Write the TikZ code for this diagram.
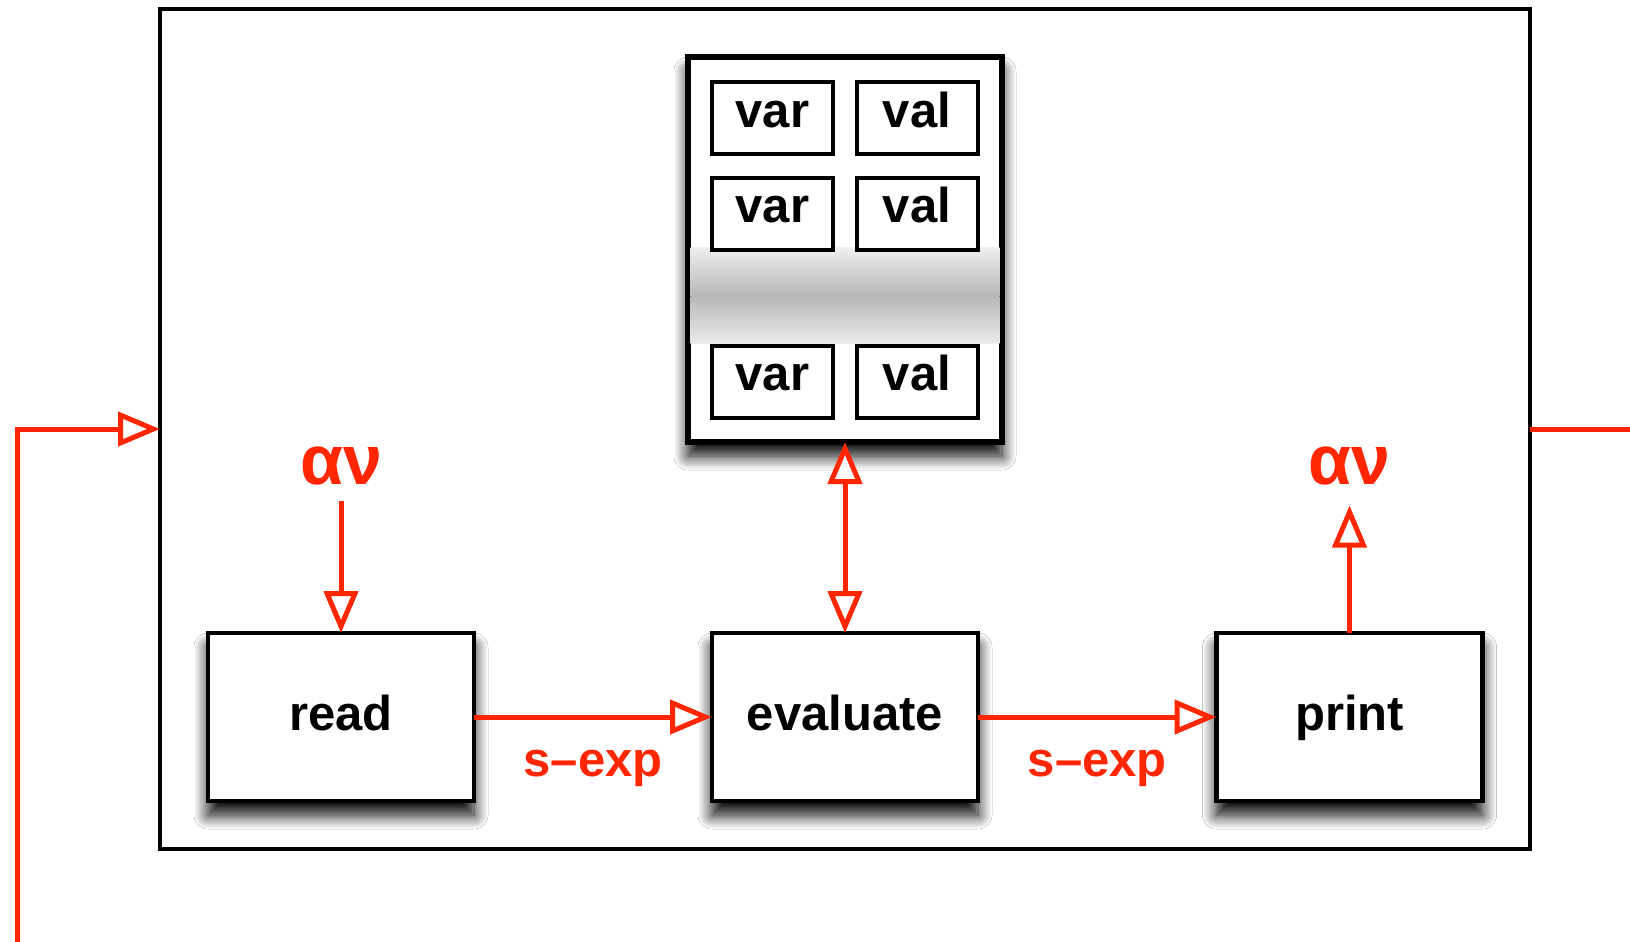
\documentclass[tikz,border=0pt]{standalone}
\usepackage{fontspec}
\setmainfont{Liberation Sans}
\usetikzlibrary{arrows.meta,shadows.blur}
\definecolor{kred}{RGB}{255,38,0}
\begin{document}
\begin{tikzpicture}[x=0.5pt,y=-0.5pt,
  box/.style={draw=black, line width=2.2pt, fill=white, rectangle, inner sep=0pt, outer sep=0pt,
    font=\fontsize{24.5pt}{29pt}\selectfont\bfseries, text height=18pt, text depth=5pt},
  shadowed/.style={blur shadow={shadow xshift=0pt, shadow yshift=-7pt, shadow blur radius=7pt, shadow blur steps=12, shadow opacity=100}},
  outerbox/.style={draw=black, line width=2pt, fill=white, rectangle, outer sep=0pt, minimum width=685pt, minimum height=420pt},
  envbox/.style={box, line width=2.6pt, minimum width=157pt, minimum height=192.5pt, shadowed},
  cellbox/.style={box, line width=2pt, minimum width=60.5pt, minimum height=36pt, text height=14pt, text depth=5pt},
  stagebox/.style={box, line width=2.4pt, minimum width=133pt, minimum height=84pt, shadowed},
  greek/.style={text=kred, inner sep=0pt, font=\fontsize{35pt}{40pt}\selectfont\bfseries},
  lbl/.style={text=kred, inner sep=0pt, font=\fontsize{24.5pt}{29pt}\selectfont\bfseries, midway, below=15.5pt},
  redline/.style={draw=kred, line width=2.5pt},
  flow/.style={redline, -{Triangle[length=21pt, width=17pt, fill=white, line width=2.5pt]}},
  flowboth/.style={redline, {Triangle[length=21pt, width=17pt, fill=white, line width=2.5pt]}-{Triangle[length=21pt, width=17pt, fill=white, line width=2.5pt]}}
]
\useasboundingbox (0,0) rectangle (1630,942);

% outer REPL box
\node[outerbox] (repl) at (845,429) {};

% environment
\node[envbox] (env) at (845,249.5) {};
\shade[top color=black!6, bottom color=black!28] ([xshift=1.3pt]env.west |- 0,247) rectangle ([xshift=-1.3pt]env.east |- 0,296);
\shade[top color=black!28, bottom color=black!8] ([xshift=1.3pt]env.west |- 0,296) rectangle ([xshift=-1.3pt]env.east |- 0,343);

\node[cellbox] (var1) at (772.5,118) {var};
\node[cellbox] (val1) at (917,118) {val};
\node[cellbox] (var2) at (772.5,213.5) {var};
\node[cellbox] (val2) at (917,213.5) {val};
\node[cellbox] (var3) at (772.5,381.5) {var};
\node[cellbox] (val3) at (917,381.5) {val};

% stages
\node[stagebox] (read) at (341,717) {read};
\node[stagebox] (eval) at (845,717) {evaluate};
\node[stagebox] (print) at (1349.5,717) {print};

% input / output
\node[greek] (in) at (341,466) {αν};
\node[greek] (out) at (1349.5,466) {αν};

% connectors
\draw[flow] ([yshift=-7.5pt]in.south) -- (read.north);
\draw[flow] (print.north) -- ([yshift=-10pt]out.south);
\draw[flowboth] (env.south) -- (eval.north);
\draw[flow] (read.east) -- node[lbl] {s–exp} (eval.west);
\draw[flow] (eval.east) -- node[lbl] {s–exp} (print.west);

% loop
\coordinate (loopin) at (17,960);
\coordinate (loopout) at (1650,429);
\draw[flow] (loopin) |- (repl.west);
\draw[redline] (repl.east) -- (loopout);
\end{tikzpicture}
\end{document}
